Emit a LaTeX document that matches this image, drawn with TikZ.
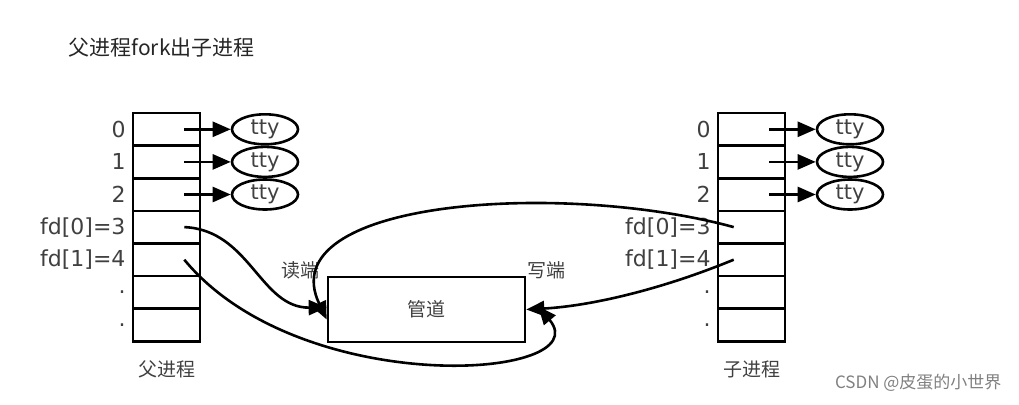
\documentclass[tikz,border=0pt]{standalone}
\usepackage{fontspec}
\setmainfont{DejaVu Sans}
\newfontfamily\cjk{Noto Sans CJK SC}
\usetikzlibrary{positioning,shapes.geometric,arrows.meta}

\tikzset{
  cell/.style={draw, line width=2.6pt, minimum width=67pt, minimum height=32.6pt, inner sep=0pt},
  tty/.style={draw, ellipse, line width=2.6pt, minimum width=66pt, minimum height=30pt, inner sep=0pt, font=\fontsize{21}{24}\selectfont, text=black!75},
  idx/.style={font=\fontsize{22}{26}\selectfont, text=black!75, inner sep=0pt},
  lbl/.style={font=\cjk\fontsize{19}{22}\selectfont, text=black!75, inner sep=0pt},
  arr/.style={line width=2.6pt, -{Triangle[length=18pt,width=15pt]}},
  link/.style={line width=2.6pt, -{Triangle[length=18pt,width=15pt]}},
}

\begin{document}
\begin{tikzpicture}[x=1pt,y=-1pt]
\useasboundingbox (0,0) rectangle (1019,404);

\node[anchor=west, font=\cjk\fontsize{21}{24}\selectfont, text=black!85] (title) at (65,48) {父进程fork出子进程};

% fd tables
\foreach \i/\t in {0/0,1/1,2/2,3/{fd[0]=3},4/{fd[1]=4},5/.,6/.} {
  \node[cell] (p\i) at (166.5,129.3+32.6*\i) {};
  \node[cell] (c\i) at (751.5,129.3+32.6*\i) {};
  \node[idx, left=6pt of p\i] (pl\i) {\t};
  \node[idx, left=6pt of c\i] (cl\i) {\t};
  \coordinate (ps\i) at ([xshift=-17pt]p\i.east);
  \coordinate (cs\i) at ([xshift=-17pt]c\i.east);
  \coordinate (cw\i) at ([xshift=17pt]c\i.west);
}

% tty
\foreach \i in {0,1,2} {
  \node[tty] (pt\i) at (265,129.3+32.6*\i) {tty};
  \node[tty] (ct\i) at (850,129.3+32.6*\i) {tty};
  \draw[arr] (ps\i) -- (pt\i);
  \draw[arr] (cs\i) -- (ct\i);
}

\node[lbl, below=18pt of p6] (parent) {父进程};
\node[lbl, below=18pt of c6] (child) {子进程};

% pipe
\node[draw, line width=2.6pt, minimum width=197pt, minimum height=65pt, font=\cjk\fontsize{19}{22}\selectfont, text=black!75] (pipe) at (426.5,309.5) {管道};
\node[lbl] (rd) at (300,270) {读端};
\node[lbl] (wr) at (546,270) {写端};

\draw[link] (ps3) .. controls (250,230) and (260,308) .. ([yshift=2pt]pipe.west);
\draw[link] (cw3) .. controls (560,180) and (270,200) .. ([yshift=-10pt]pipe.west);
\draw[link] (ps4) .. controls (300,400) and (600,380) .. ([xshift=12pt,yshift=3pt]pipe.east);
\draw[link] (cw4) .. controls (660,290) and (590,306) .. (pipe.east);

\node[anchor=east, font=\cjk\fontsize{17}{20}\selectfont, text=black!50] (mark) at (1005,383) {CSDN @皮蛋的小世界};
\end{tikzpicture}
\end{document}
